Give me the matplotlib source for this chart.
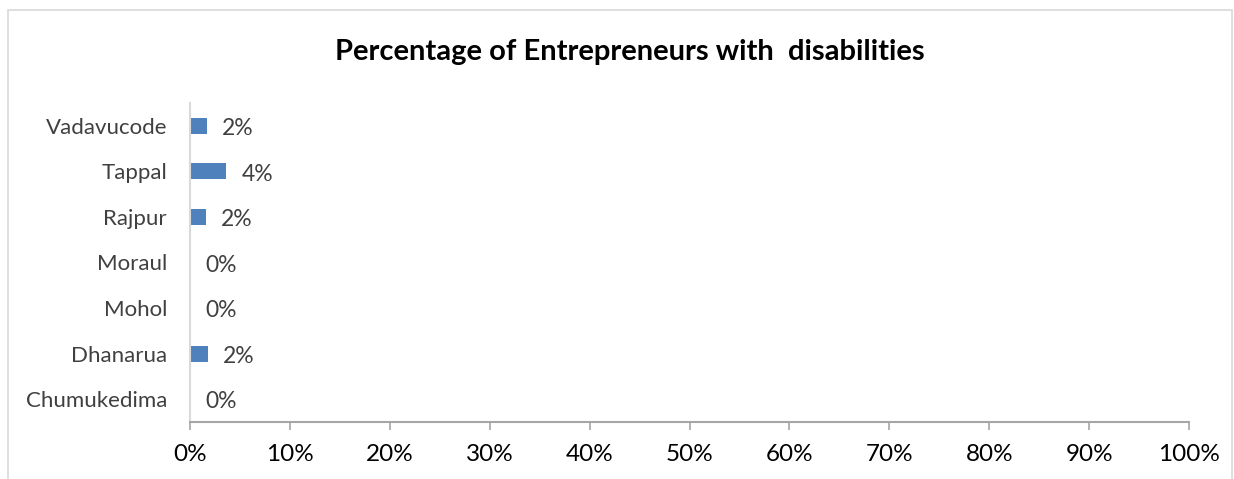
import matplotlib
matplotlib.use("Agg")
import matplotlib.pyplot as plt
from matplotlib.patches import Rectangle

categories = ["Chumukedima", "Dhanarua", "Mohol", "Moraul", "Rajpur", "Tappal", "Vadavucode"]
values = [0.0, 1.8, 0.0, 0.0, 1.6, 3.6, 1.7]
value_labels = ["0%", "2%", "0%", "0%", "2%", "4%", "2%"]
xticks = list(range(0, 101, 10))
xtick_labels = [f"{t}%" for t in xticks]
title = "Percentage of Entrepreneurs with  disabilities"

plt.rcParams['font.family'] = ['Lato', 'DejaVu Sans']

W, H = 1234, 479
fig = plt.figure(figsize=(W/100, H/100), dpi=100)
ax = fig.add_axes([190/W, 1-422/H, (1189-190)/W, (422-103)/H])

y = range(len(categories))
ax.barh(y, values, height=0.35, color="#4f81bd")
for yi, v, lab in zip(y, values, value_labels):
    ax.annotate(lab, (v, yi), xytext=(11, -2), textcoords="offset points",
                ha="left", va="center", fontsize=16.5, color="#404040")

ax.set_xlim(0, 100)
ax.set_ylim(-0.5, len(categories)-0.5)
ax.set_yticks(list(y))
ax.set_yticklabels(categories, fontsize=16, color="#404040")
ax.set_xticks(xticks)
ax.set_xticklabels(xtick_labels, fontsize=17.5, color="black")
ax.tick_params(axis='y', length=0, pad=16.5)
ax.tick_params(axis='x', length=6, width=1.2, color="#a6a6a6", pad=10, direction='out')
for s in ["top", "right"]:
    ax.spines[s].set_visible(False)
ax.spines["left"].set_color("#d9d9d9")
ax.spines["left"].set_linewidth(1.5)
ax.spines["bottom"].set_color("#a6a6a6")
ax.spines["bottom"].set_linewidth(1.5)

fig.text(630/W, 1-52/H, title, ha="center", va="center", fontsize=21, fontweight="bold")

fig.patches.append(Rectangle((8/W, -0.05), (1232-8)/W, 1.05-10/H, transform=fig.transFigure,
                             fill=False, edgecolor="#d9d9d9", linewidth=1.2))

fig.savefig("out.png", dpi=100)
